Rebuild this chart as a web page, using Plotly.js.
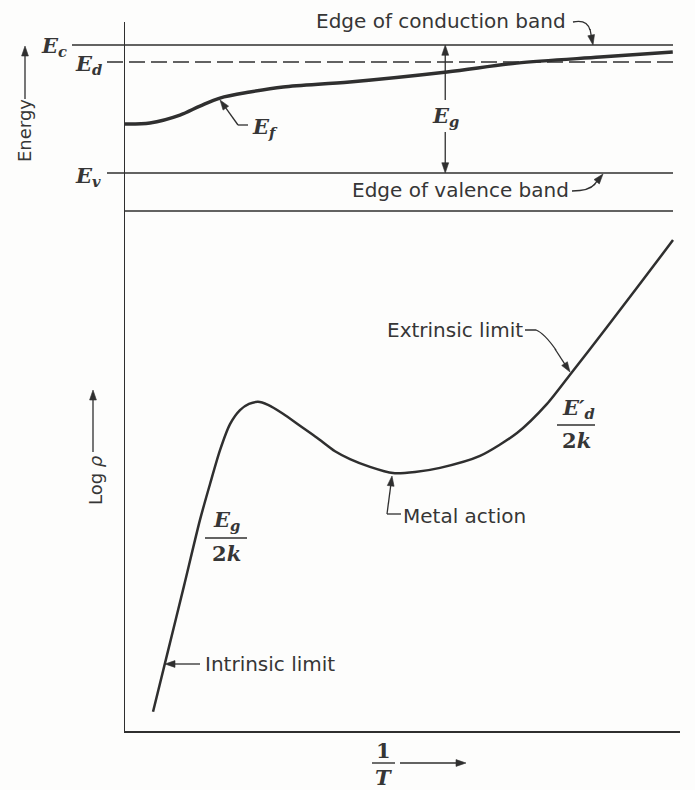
<!DOCTYPE html>
<html>
<head>
<meta charset="utf-8">
<script src="https://cdn.plot.ly/plotly-3.0.1.min.js"></script>
<style>
  html, body { margin: 0; padding: 0; background: #fdfdfc; }
  #chart { width: 695px; height: 790px; }
</style>
</head>
<body>
<div id="chart"></div>
<script>
// Band edges (energy, in units of the gap: Ev = 0, Ec = 1)
const bandNames = ['Ec', 'Ed', 'Ev'];
const bandLevels = [1.0, 0.867, 0.0];

// Fermi level against 1/T (arbitrary units)
const fermiInvT = [0, 4.5, 9.9, 13.5, 17.1, 22.5, 28.5, 40.5, 58.0, 70.6, 85.6, 98.7];
const fermiE    = [0.383, 0.391, 0.453, 0.523, 0.586, 0.633, 0.672, 0.711, 0.789, 0.859, 0.906, 0.945];

// Resistivity (log scale, arbitrary units) against 1/T
const rhoInvT = [5.05, 7.75, 10.63, 13.51, 15.32, 17.12, 18.92, 20.72, 22.34, 23.96, 25.77, 28.47,
                 31.53, 34.59, 37.84, 40.54, 44.14, 48.29, 52.25, 56.76, 63.96, 70.63, 76.04,
                 80.18, 86.85, 92.79, 98.74];
const logRho  = [0.37, 1.54, 2.79, 4.06, 4.75, 5.40, 5.90, 6.17, 6.29, 6.33, 6.27, 6.10,
                 5.87, 5.64, 5.38, 5.23, 5.08, 4.96, 4.98, 5.06, 5.29, 5.73, 6.29,
                 6.85, 7.77, 8.60, 9.44];

// Where the band-gap arrow stands on the 1/T axis, and where its shafts stop
const gapArrowInvT = 57.7;
const gapShaftTop = 0.57, gapShaftBottom = 0.32, gapLabelE = 0.44;

const ink = '#2f2f2f';
const textInk = '#363636';
const W = 695, H = 790, L = 125, R = 15, T = 22, B = 59;
const pw = W - L - R, ph = H - T - B;
const splitY = 211;                       // boundary between the two panels (px)
const split = (H - B - splitY) / ph;      // same boundary in paper units
const y2Range = [-0.297, 1.18];

// pixel -> paper helpers for annotations and leader lines
const px = x => (x - L) / pw;
const py = y => (H - B - y) / ph;

const Ec = bandLevels[0], Ed = bandLevels[1], Ev = bandLevels[2];

const sans = {family: 'DejaVu Sans', size: 20, color: textInk};
const serif = {family: 'DejaVu Serif', size: 21, color: textInk, weight: 'bold'};

function label(text, x, y, font, extra) {
  return Object.assign({
    xref: 'paper', yref: 'paper', x: px(x), y: py(y), text: text,
    showarrow: false, xanchor: 'center', yanchor: 'middle', font: font
  }, extra || {});
}

// straight arrow (pixel coords): shaft plus a filled head at (hx, hy)
function arrow(tx, ty, hx, hy) {
  const dx = hx - tx, dy = hy - ty, len = Math.hypot(dx, dy);
  const ux = dx / len, uy = dy / len, hl = 10, hw = 3.4;
  const bx = hx - ux * hl, by = hy - uy * hl;
  const c1x = bx - uy * hw, c1y = by + ux * hw;
  const c2x = bx + uy * hw, c2y = by - ux * hw;
  return [
    {type: 'line', xref: 'paper', yref: 'paper', x0: px(tx), y0: py(ty), x1: px(bx + ux * 2), y1: py(by + uy * 2),
     line: {color: ink, width: 1.3}},
    {type: 'path', xref: 'paper', yref: 'paper',
     path: `M ${px(hx)},${py(hy)} L ${px(c1x)},${py(c1y)} L ${px(c2x)},${py(c2y)} Z`,
     fillcolor: ink, line: {color: ink, width: 0.6}}
  ];
}

// vertical arrow drawn on the energy axis itself
function gapArrow(fromE, toE) {
  const dir = Math.sign(toE - fromE);
  const headLen = 0.08, headHalf = 0.62;
  return [
    {type: 'line', xref: 'x', yref: 'y2', x0: gapArrowInvT, x1: gapArrowInvT,
     y0: fromE, y1: toE - dir * headLen * 0.8, line: {color: ink, width: 1.3}},
    {type: 'path', xref: 'x', yref: 'y2',
     path: `M ${gapArrowInvT},${toE} L ${gapArrowInvT - headHalf},${toE - dir * headLen} ` +
           `L ${gapArrowInvT + headHalf},${toE - dir * headLen} Z`,
     fillcolor: ink, line: {color: ink, width: 0.6}}
  ];
}

function path(d) {
  // d: list of [cmd, x, y, ...] in pixels
  return {
    type: 'path', xref: 'paper', yref: 'paper',
    path: d.map(p => p[0] + ' ' + p.slice(1).reduce((s, v, i) =>
      s + (i % 2 === 0 ? px(v) : ',' + py(v) + ' '), '')).join(' '),
    line: {color: ink, width: 1.3}
  };
}
function hline(x0, x1, y) {
  return {type: 'line', xref: 'paper', yref: 'paper',
    x0: px(x0), x1: px(x1), y0: py(y), y1: py(y), line: {color: ink, width: 1.4}};
}

const traces = [
  {
    x: fermiInvT, y: fermiE, xaxis: 'x', yaxis: 'y2',
    mode: 'lines', line: {color: ink, width: 3.4, shape: 'spline', smoothing: 0.9},
    hoverinfo: 'skip', showlegend: false
  },
  {
    x: rhoInvT, y: logRho, xaxis: 'x', yaxis: 'y',
    mode: 'lines', line: {color: ink, width: 2.5, shape: 'spline', smoothing: 0.7},
    hoverinfo: 'skip', showlegend: false
  }
];

const shapes = [
  // band edges
  {type: 'line', xref: 'paper', yref: 'y2', x0: px(72), x1: px(673), y0: Ec, y1: Ec,
   line: {color: ink, width: 1.4}},
  {type: 'line', xref: 'paper', yref: 'y2', x0: px(107), x1: px(673), y0: Ed, y1: Ed,
   line: {color: ink, width: 1.4, dash: '16px,6px'}},
  {type: 'line', xref: 'paper', yref: 'y2', x0: px(107), x1: px(673), y0: Ev, y1: Ev,
   line: {color: ink, width: 1.4}},
  // panel divider
  {type: 'line', xref: 'paper', yref: 'paper', x0: 0, x1: px(673), y0: split, y1: split,
   line: {color: ink, width: 1.4}},
  // curved leaders
  path([['M', 573, 22], ['Q', 587, 19, 590, 30]]),
  path([['M', 248, 125], ['L', 238, 125]]),
  path([['M', 572, 191], ['Q', 589, 191, 595, 184]]),
  path([['M', 525, 330], ['L', 536, 330], ['Q', 544, 333, 556, 350]]),
  path([['M', 401, 514], ['L', 387, 514]]),
  // fraction bars
  hline(205, 247, 538),
  hline(557, 595, 425),
  hline(372, 395, 763)
].concat(
  gapArrow(gapShaftTop, Ec),
  gapArrow(gapShaftBottom, Ev),
  arrow(590, 29, 593, 45),            // conduction band edge
  arrow(238, 125, 220, 100),          // Fermi level
  arrow(594, 185, 603, 174),          // valence band edge
  arrow(25, 99, 25, 46),              // energy axis
  arrow(93, 452, 93, 390),            // log rho axis
  arrow(400, 763, 466, 763),          // 1/T axis
  arrow(555, 349, 570, 372),          // extrinsic limit
  arrow(387, 514, 392, 476),          // metal action
  arrow(200, 664, 165, 664)           // intrinsic limit
);

const annotations = [
  // band labels
  label('<i>E<sub>c</sub></i>', 54, 47, serif),
  label('<i>E<sub>d</sub></i>', 88, 64, serif),
  label('<i>E<sub>v</sub></i>', 88, 176, serif),
  label('<i>E<sub>f</sub></i>', 265, 128, serif),
  {xref: 'x', yref: 'y2', x: gapArrowInvT, y: gapLabelE, text: '<i>E<sub>g</sub></i>',
   showarrow: false, font: serif},
  // band captions
  label('Edge of conduction band', 441, 21, sans),
  label('Edge of valence band', 460, 190, sans),
  // axis captions
  label('Energy', 24, 131, {family: 'DejaVu Sans', size: 18, color: textInk}, {textangle: -90}),
  label('Log <i>ρ</i>', 95, 480, {family: 'DejaVu Sans', size: 18, color: textInk}, {textangle: -90}),
  label('1', 383, 750, serif),
  label('<i>T</i>', 383, 778, serif),
  // resistivity curve notes
  label('Extrinsic limit', 455, 330, sans),
  label('Metal action', 464, 516, sans),
  label('Intrinsic limit', 270, 664, sans),
  label('<i>E<sub>g</sub></i>', 226, 520, serif),
  label('2<i>k</i>', 226, 553, serif),
  label('<i>E′<sub>d</sub></i>', 578, 408, serif),
  label('2<i>k</i>', 576, 440, serif)
];

const axisCommon = {
  showgrid: false, zeroline: false, showticklabels: false, ticks: '',
  showline: true, linecolor: ink, linewidth: 1.5, fixedrange: true
};

const layout = {
  width: W, height: H,
  margin: {l: L, r: R, t: T, b: B},
  paper_bgcolor: '#fdfdfc', plot_bgcolor: '#fdfdfc',
  font: {family: 'DejaVu Sans', color: textInk},
  showlegend: false,
  xaxis: Object.assign({}, axisCommon, {range: [0, 100], anchor: 'y'}),
  yaxis: Object.assign({}, axisCommon, {range: [0, 10], domain: [0, split], anchor: 'x'}),
  yaxis2: Object.assign({}, axisCommon, {range: y2Range, domain: [split, 1], anchor: 'x'}),
  shapes: shapes,
  annotations: annotations
};

Plotly.newPlot('chart', traces, layout, {staticPlot: true, displayModeBar: false});
</script>
</body>
</html>
